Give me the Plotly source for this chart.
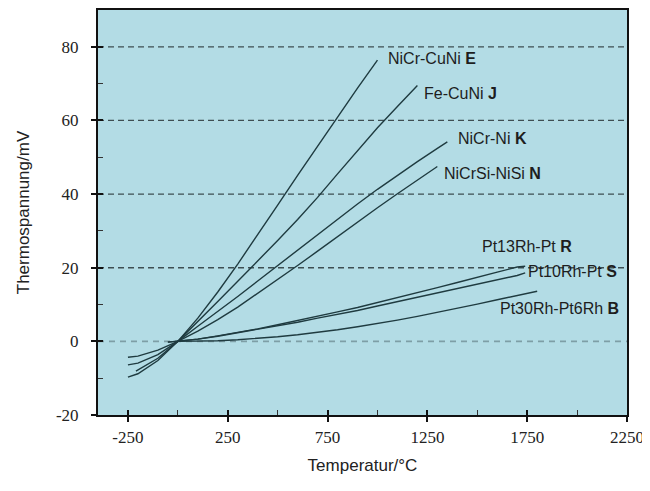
import plotly.graph_objects as go

# Thermocouple reference data (°C, mV)
E_T = [-250, -200, -100, 0, 100, 200, 300, 400, 500, 600, 700, 800, 900, 1000]
E_V = [-9.7, -8.8, -5.2, 0, 6.3, 13.4, 21.0, 28.9, 37.0, 45.1, 53.1, 61.0, 68.8, 76.4]

J_T = [-210, -100, 0, 100, 200, 300, 400, 500, 600, 700, 800, 900, 1000, 1100, 1200]
J_V = [-8.1, -4.6, 0, 5.3, 10.8, 16.3, 21.8, 27.4, 33.1, 39.1, 45.5, 51.9, 58.0, 63.8, 69.5]

K_T = [-250, -200, -100, 0, 100, 200, 300, 400, 500, 600, 700, 800, 900, 1000, 1100, 1200, 1300, 1350]
K_V = [-6.4, -5.9, -3.6, 0, 4.1, 8.1, 12.2, 16.4, 20.6, 24.9, 29.1, 33.3, 37.3, 41.3, 45.1, 48.8, 52.4, 54.2]

N_T = [-250, -200, -100, 0, 100, 200, 300, 400, 500, 600, 700, 800, 900, 1000, 1100, 1200, 1300]
N_V = [-4.3, -4.0, -2.4, 0, 2.8, 5.9, 9.3, 13.0, 16.7, 20.6, 24.5, 28.5, 32.4, 36.3, 40.1, 43.8, 47.5]

R_T = [-50, 0, 100, 200, 300, 400, 500, 600, 700, 800, 900, 1000, 1100, 1200, 1300, 1400, 1500, 1600, 1700, 1740]
R_V = [-0.2, 0, 0.6, 1.5, 2.4, 3.4, 4.5, 5.6, 6.7, 8.0, 9.2, 10.5, 11.9, 13.2, 14.6, 16.0, 17.5, 18.8, 20.2, 20.4]

S_T = [-50, 0, 100, 200, 300, 400, 500, 600, 700, 800, 900, 1000, 1100, 1200, 1300, 1400, 1500, 1600, 1700, 1740]
S_V = [-0.2, 0, 0.6, 1.4, 2.3, 3.3, 4.2, 5.2, 6.3, 7.3, 8.4, 9.6, 10.8, 12.0, 13.2, 14.4, 15.6, 16.8, 17.9, 18.6]

B_T = [0, 100, 200, 300, 400, 500, 600, 700, 800, 900, 1000, 1100, 1200, 1300, 1400, 1500, 1600, 1700, 1800]
B_V = [0, 0.03, 0.18, 0.43, 0.79, 1.24, 1.79, 2.43, 3.15, 3.96, 4.83, 5.78, 6.79, 7.85, 8.96, 10.1, 11.3, 12.4, 13.6]

SERIES = [("E", E_T, E_V), ("J", J_T, J_V), ("K", K_T, K_V), ("N", N_T, N_V),
          ("R", R_T, R_V), ("S", S_T, S_V), ("B", B_T, B_V)]

# Curve labels: (text, bold letter, x, y)
LABELS = [("NiCr-CuNi", "E", 1045, 76.7),
          ("Fe-CuNi", "J", 1225, 67.2),
          ("NiCr-Ni", "K", 1395, 55.0),
          ("NiCrSi-NiSi", "N", 1325, 45.5),
          ("Pt13Rh-Pt", "R", 1515, 25.7),
          ("Pt10Rh-Pt", "S", 1745, 19.0),
          ("Pt30Rh-Pt6Rh", "B", 1605, 8.9)]

X_TICKS = [-250, 250, 750, 1250, 1750, 2250]
X_TICKTEXT = ["-250", "250", "750", "1250", "1750", "2250"]
X_MINOR = [0, 500, 1000, 1500, 2000]
Y_TICKS = [-20, 0, 20, 40, 60, 80]
Y_TICKTEXT = ["-20", "0", "20", "40", "60", "80"]
Y_MINOR = [-10, 10, 30, 50, 70]
GRID_Y = [20, 40, 60, 80]
ZERO_Y = [0]

X_RANGE = [-400, 2250]
Y_RANGE = [-20, 90]

BG = "#B3DCE5"
LINE = "#1F3B40"
SERIF = "Liberation Serif, Times New Roman, serif"
SANS = "Liberation Sans Narrow, Liberation Sans, Arial, sans-serif"

fig = go.Figure()
for name, t, v in SERIES:
    fig.add_trace(go.Scatter(x=t, y=v, mode="lines", name=name,
                             line=dict(color=LINE, width=1.4), showlegend=False))
# dummy trace for the overlay axes (inside halves of the crossing ticks)
fig.add_trace(go.Scatter(x=[None], y=[None], xaxis="x2", yaxis="y2",
                         showlegend=False, hoverinfo="skip"))

shapes = []
for g in GRID_Y:
    shapes.append(dict(type="line", xref="paper", x0=0, x1=1, yref="y", y0=g, y1=g,
                       layer="between", line=dict(color="#3E4E52", width=1.3, dash="6px,4px")))
for g in ZERO_Y:
    shapes.append(dict(type="line", xref="paper", x0=0, x1=1, yref="y", y0=g, y1=g,
                       layer="between", line=dict(color="#7E9EA6", width=1.6, dash="6px,5px")))

annotations = []
for txt, letter, x, y in LABELS:
    annotations.append(dict(x=x, y=y, xref="x", yref="y", xanchor="left", yanchor="middle",
                            text=f"{txt} <b>{letter}</b>", showarrow=False,
                            font=dict(family=SANS, size=16, color="#1E1E1E")))

fig.update_layout(
    width=642, height=483,
    margin=dict(l=90, r=23, t=2, b=76),
    paper_bgcolor="white", plot_bgcolor=BG,
    shapes=shapes, annotations=annotations,
    xaxis=dict(range=X_RANGE, tickvals=X_TICKS, ticktext=X_TICKTEXT, ticks="outside",
               ticklen=5, tickwidth=1.5, tickcolor="#111", showgrid=False, zeroline=False,
               showline=True, linecolor="#111", linewidth=2, mirror=True, automargin=False,
               ticklabelstandoff=1,
               tickfont=dict(family=SERIF, size=17, color="#222"),
               minor=dict(tickvals=X_MINOR, ticks="inside", ticklen=5, tickwidth=1, tickcolor="#333"),
               title=dict(text="Temperatur/°C", font=dict(family=SANS, size=17, color="#222"), standoff=13)),
    yaxis=dict(range=Y_RANGE, tickvals=Y_TICKS, ticktext=Y_TICKTEXT, ticks="outside",
               ticklen=5, tickwidth=1.5, tickcolor="#111", showgrid=False, zeroline=False,
               showline=True, linecolor="#111", linewidth=2, mirror=True, automargin=False,
               ticklabelstandoff=9,
               tickfont=dict(family=SERIF, size=17, color="#222"),
               minor=dict(tickvals=Y_MINOR, ticks="inside", ticklen=5, tickwidth=1, tickcolor="#333"),
               title=dict(text="Thermospannung/mV", font=dict(family=SANS, size=17, color="#222"), standoff=22)),
    xaxis2=dict(range=X_RANGE, overlaying="x", anchor="y2", tickvals=X_TICKS, ticks="inside",
                ticklen=5, tickwidth=1.5, tickcolor="#111", showticklabels=False,
                showgrid=False, zeroline=False, showline=False),
    yaxis2=dict(range=Y_RANGE, overlaying="y", anchor="x2", tickvals=Y_TICKS, ticks="inside",
                ticklen=5, tickwidth=1.5, tickcolor="#111", showticklabels=False,
                showgrid=False, zeroline=False, showline=False),
)

fig.write_html("out.html")
